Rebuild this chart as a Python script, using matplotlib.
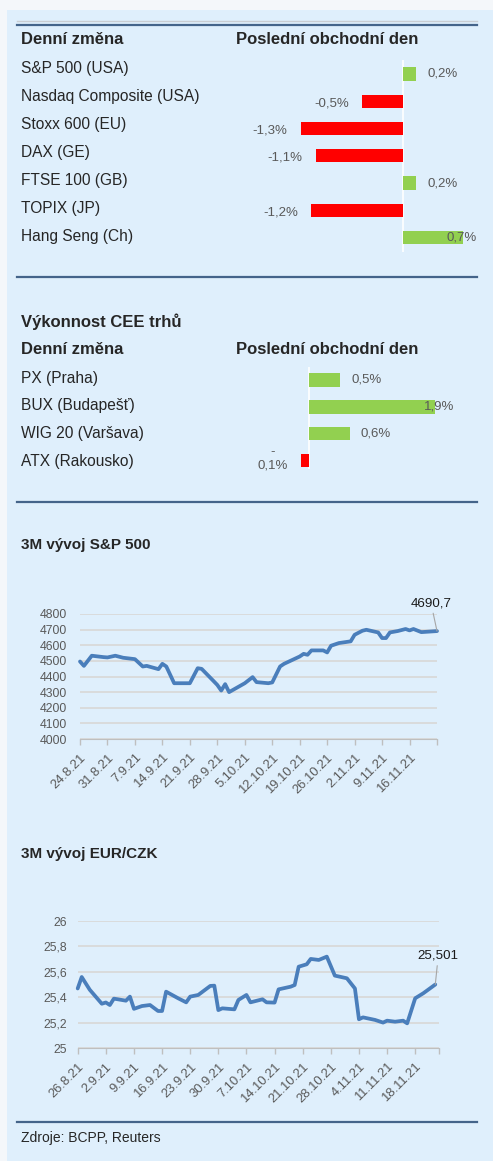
from datetime import datetime

import matplotlib
matplotlib.use('Agg')
import matplotlib.pyplot as plt
import matplotlib.dates as mdates
from matplotlib.lines import Line2D
from matplotlib.patches import Rectangle

plt.rcParams['font.family'] = ['Liberation Sans', 'DejaVu Sans']

# --- data ---
world_names = ["S&P 500 (USA)", "Nasdaq Composite (USA)", "Stoxx 600 (EU)", "DAX (GE)",
               "FTSE 100 (GB)", "TOPIX (JP)", "Hang Seng (Ch)"]
world_change = [0.17, -0.52, -1.30, -1.11, 0.17, -1.17, 0.76]
world_labels = ["0,2%", "-0,5%", "-1,3%", "-1,1%", "0,2%", "-1,2%", "0,7%"]

cee_names = ["PX (Praha)", "BUX (Budapešť)", "WIG 20 (Varšava)", "ATX (Rakousko)"]
cee_change = [0.47, 1.90, 0.61, -0.13]
cee_labels = ["0,5%", "1,9%", "0,6%", "-\n0,1%"]

sp_dates = ["24.8.21", "25.8.21", "27.8.21", "30.8.21", "31.8.21", "2.9.21", "4.9.21", "7.9.21",
            "9.9.21", "10.9.21", "13.9.21", "14.9.21", "15.9.21", "17.9.21", "21.9.21", "23.9.21",
            "24.9.21", "27.9.21", "28.9.21", "29.9.21", "30.9.21", "1.10.21", "5.10.21", "7.10.21",
            "8.10.21", "11.10.21", "12.10.21", "14.10.21", "15.10.21", "19.10.21", "20.10.21",
            "21.10.21", "22.10.21", "25.10.21", "26.10.21", "27.10.21", "29.10.21", "1.11.21",
            "2.11.21", "4.11.21", "5.11.21", "8.11.21", "9.11.21", "10.11.21", "11.11.21",
            "13.11.21", "15.11.21", "16.11.21", "17.11.21", "19.11.21", "23.11.21"]
sp_values = [4496, 4468, 4533, 4524, 4522, 4533, 4520, 4511,
             4464, 4468, 4447, 4481, 4464, 4357, 4357, 4453,
             4449, 4372, 4346, 4310, 4351, 4300, 4357, 4396,
             4364, 4357, 4362, 4464, 4481, 4528, 4545,
             4539, 4567, 4567, 4554, 4597, 4614, 4625,
             4667, 4693, 4699, 4682, 4646, 4646, 4682,
             4691, 4704, 4695, 4704, 4684, 4690.7]
sp_ticks = ["24.8.21", "31.8.21", "7.9.21", "14.9.21", "21.9.21", "28.9.21", "5.10.21",
            "12.10.21", "19.10.21", "26.10.21", "2.11.21", "9.11.21", "16.11.21"]
sp_end = "23.11.21"
sp_last = "4690,7"

czk_dates = ["26.8.21", "27.8.21", "29.8.21", "1.9.21", "2.9.21", "3.9.21", "4.9.21", "5.9.21",
             "7.9.21", "8.9.21", "9.9.21", "11.9.21", "13.9.21", "15.9.21", "16.9.21", "17.9.21",
             "20.9.21", "22.9.21", "23.9.21", "25.9.21", "28.9.21", "29.9.21", "30.9.21",
             "1.10.21", "4.10.21", "5.10.21", "7.10.21", "8.10.21", "11.10.21", "12.10.21",
             "14.10.21", "15.10.21", "18.10.21", "19.10.21", "20.10.21", "22.10.21", "23.10.21",
             "25.10.21", "27.10.21", "29.10.21", "1.11.21", "3.11.21", "4.11.21", "5.11.21",
             "8.11.21", "10.11.21", "11.11.21", "13.11.21", "15.11.21", "16.11.21", "18.11.21",
             "20.11.21", "23.11.21"]
czk_values = [25.47, 25.56, 25.46, 25.35, 25.36, 25.34, 25.39, 25.385,
              25.374, 25.406, 25.31, 25.332, 25.34, 25.293, 25.293, 25.445,
              25.393, 25.361, 25.406, 25.419, 25.49, 25.492, 25.30,
              25.314, 25.306, 25.38, 25.419, 25.361, 25.385, 25.361,
              25.359, 25.463, 25.484, 25.497, 25.641, 25.66, 25.702,
              25.694, 25.72, 25.571, 25.55, 25.47, 25.228, 25.243,
              25.223, 25.202, 25.217, 25.209, 25.217, 25.196, 25.393,
              25.432, 25.501]
czk_ticks = ["26.8.21", "2.9.21", "9.9.21", "16.9.21", "23.9.21", "30.9.21", "7.10.21",
             "14.10.21", "21.10.21", "28.10.21", "4.11.21", "11.11.21", "18.11.21"]
czk_end = "24.11.21"
czk_last = "25,501"

# --- layout helpers (pixels) ---
W, H = 493, 1161
fig = plt.figure(figsize=(W / 100, H / 100), dpi=100)
fig.patch.set_facecolor('#f4f7fa')
fig.add_artist(Rectangle((7 / W, 0), 1, 1 - 10 / H, transform=fig.transFigure,
                         facecolor='#dfeffc', edgecolor='none', zorder=0))

TXT = '#262626'
GREY = '#595959'


def px_rect(l, t, r, b):
    return [l / W, 1 - b / H, (r - l) / W, (b - t) / H]


def ftext(x, y, s, **kw):
    fig.text(x / W, 1 - y / H, s, va='center', **kw)


def hline(y, x0=17, x1=477, color='#44648a', lw=1.6):
    fig.add_artist(Line2D([x0 / W, x1 / W], [1 - y / H] * 2, color=color, lw=lw,
                          transform=fig.transFigure))


def to_num(s):
    return mdates.date2num(datetime.strptime(s, "%d.%m.%y"))


def bar_panel(l, t, r, b, zero, scale, c0, step, names, vals, labels, ly0, lstep):
    ax = fig.add_axes(px_rect(l, t, r, b))
    ax.set_xlim((l - zero) / scale, (r - zero) / scale)
    ax.set_ylim((b - c0) / step, (t - c0) / step)
    ax.axis('off')
    cols = ['#92d050' if v > 0 else '#ff0000' for v in vals]
    ax.barh(range(len(vals)), vals, height=13.3 / step, color=cols, zorder=2)
    ax.axvline(0, color='white', lw=1.2, zorder=1)
    for i, (v, lab) in enumerate(zip(vals, labels)):
        if v >= 0:
            if zero + v * scale + 11 + 31 > r:
                ax.annotate(lab, (ax.get_xlim()[1], i), ha='right', va='center',
                            fontsize=9.5, color=GREY, zorder=3)
            else:
                ax.annotate(lab, (v, i), xytext=(11, 0), textcoords='offset pixels',
                            ha='left', va='center', fontsize=9.5, color=GREY)
        else:
            dy = 2 if '\n' in lab else -2
            ax.annotate(lab, (v, i), xytext=(-13, dy), textcoords='offset pixels',
                        ha='right', va='center', fontsize=9.5, color=GREY,
                        multialignment='center')
    for i, n in enumerate(names):
        ftext(21, ly0 + i * lstep, n, fontsize=11.2, color=TXT)


def line_panel(l, t, r, b, dates, vals, ticks, end, ylim, ystep, last, off, pad):
    ax = fig.add_axes(px_rect(l, t, r, b))
    ax.set_facecolor('none')
    x = [to_num(d) for d in dates]
    ax.plot(x, vals, color='#4a7ebb', lw=2.7, solid_joinstyle='round',
            solid_capstyle='round', zorder=3, clip_on=False)
    ax.set_xlim(to_num(ticks[0]), to_num(end))
    ax.set_ylim(*ylim)
    yt = []
    v = ylim[0]
    while v <= ylim[1] + 1e-9:
        yt.append(round(v, 3))
        v += ystep
    ax.set_yticks(yt, labels=[f"{y:g}".replace('.', ',') for y in yt])
    ax.yaxis.grid(True, color='#d9d9d9', lw=1.3)
    ax.set_axisbelow(True)
    ax.tick_params(axis='y', length=0, pad=pad, labelsize=8.8, labelcolor=GREY)
    xt = [to_num(s) for s in ticks] + [to_num(end)]
    ax.set_xticks(xt, labels=ticks + [""], rotation=45, ha='right',
                  rotation_mode='anchor')
    ax.tick_params(axis='x', length=4, width=1, color='#bfbfbf', pad=5,
                   labelsize=9.4, labelcolor=GREY)
    for s in ('left', 'right', 'top'):
        ax.spines[s].set_visible(False)
    ax.spines['bottom'].set_color('#bfbfbf')
    ax.annotate(last, (x[-1], vals[-1]), xytext=off, textcoords='offset pixels',
                ha='center', va='center', fontsize=9.6, color='#1a1a1a',
                arrowprops=dict(arrowstyle='-', color='#a6a6a6', lw=0.8,
                                shrinkA=1, shrinkB=0))


# --- section 1: world markets ---
hline(21, color='#c9cdd2', lw=1.0)
hline(25)
ftext(21, 40, "Denní změna", fontsize=12, fontweight='bold', color=TXT)
ftext(236, 40, "Poslední obchodní den", fontsize=12, fontweight='bold', color=TXT)
bar_panel(250, 60, 477, 252, 403, 78.7, 74, 27.27,
          world_names, world_change, world_labels, 68, 28.1)
hline(277)

# --- section 2: CEE markets ---
ftext(21, 322, "Výkonnost CEE trhů", fontsize=12, fontweight='bold', color=TXT)
ftext(21, 349, "Denní změna", fontsize=12, fontweight='bold', color=TXT)
ftext(236, 349, "Poslední obchodní den", fontsize=12, fontweight='bold', color=TXT)
bar_panel(230, 367, 454, 469, 309.3, 66, 380, 26.9,
          cee_names, cee_change, cee_labels, 378, 27.9)
hline(501.5)

# --- section 3: S&P 500 ---
ftext(21, 545, "3M vývoj S&P 500", fontsize=11, fontweight='bold', color=TXT)
line_panel(80, 614, 437, 739, sp_dates, sp_values, sp_ticks, sp_end,
           (4000, 4800), 100, sp_last, (-6, 28), 9.4)

# --- section 4: EUR/CZK ---
ftext(21, 854, "3M vývoj EUR/CZK", fontsize=11, fontweight='bold', color=TXT)
line_panel(77.7, 921, 439.3, 1048.3, czk_dates, czk_values, czk_ticks, czk_end,
           (25, 26), 0.2, czk_last, (3, 29), 8)

hline(1121.5)
ftext(21, 1138, "Zdroje: BCPP, Reuters", fontsize=10, color=TXT)

fig.savefig('out.png', dpi=100, facecolor=fig.get_facecolor())
